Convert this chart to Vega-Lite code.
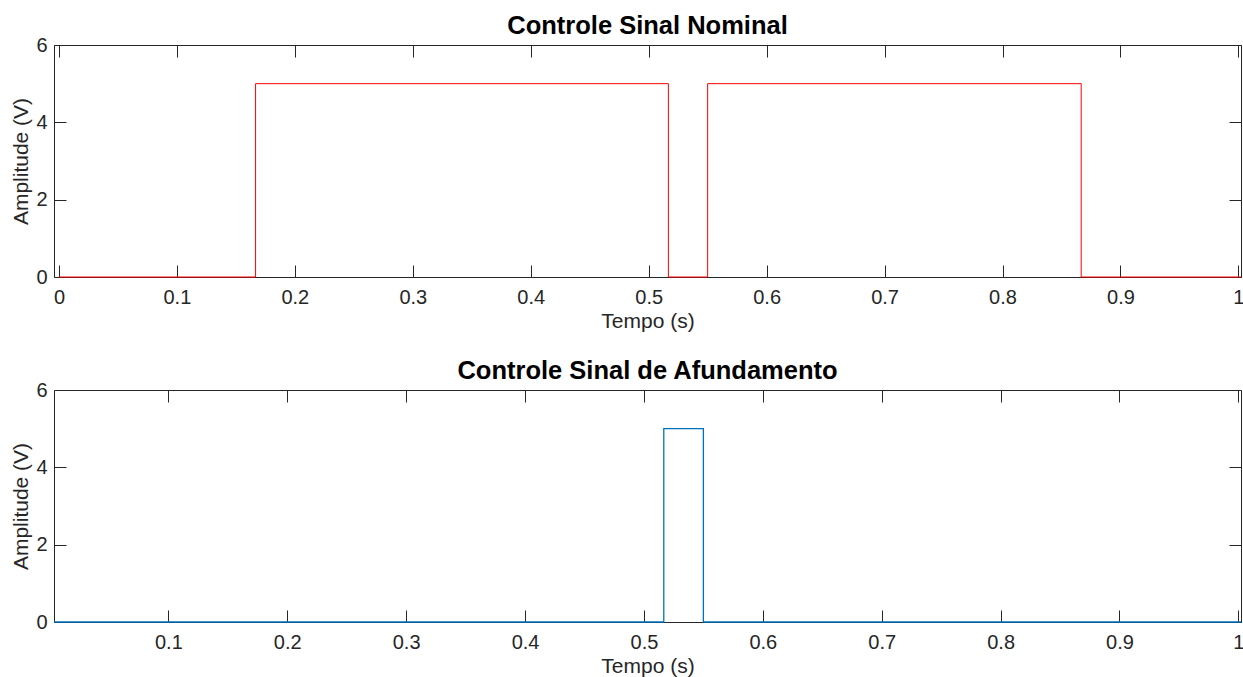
{
  "$schema": "https://vega.github.io/schema/vega-lite/v6.json",
  "padding": {"left": 10, "top": 13, "right": 0, "bottom": 0},
  "background": "white",
  "datasets": {
    "nominal": [
      {"t": 0, "v": 0},
      {"t": 0.1667, "v": 5},
      {"t": 0.5167, "v": 0},
      {"t": 0.55, "v": 5},
      {"t": 0.8667, "v": 0},
      {"t": 1.0022, "v": 0}
    ],
    "afund": [
      {"t": 0.0038, "v": 0},
      {"t": 0.5167, "v": 5},
      {"t": 0.55, "v": 0},
      {"t": 1.0022, "v": 0}
    ]
  },
  "spacing": 113,
  "bounds": "flush",
  "vconcat": [
    {
      "width": 1187,
      "height": 232,
      "title": "Controle Sinal Nominal",
      "data": {"name": "nominal"},
      "resolve": {"axis": {"x": "independent", "y": "independent"}},
      "layer": [
        {
          "mark": {"type": "line", "interpolate": "step-after", "color": "#FF0000", "strokeWidth": 1},
          "encoding": {
            "x": {"field": "t", "type": "quantitative", "scale": {"domain": [-0.0042, 1.0022], "nice": false, "zero": false},
                  "axis": {"orient": "bottom", "title": "Tempo (s)", "values": [0, 0.1, 0.2, 0.3, 0.4, 0.5, 0.6, 0.7, 0.8, 0.9, 1], "format": "~g", "labelPadding": 22, "titlePadding": 3, "labelFlush": true}},
            "y": {"field": "v", "type": "quantitative", "scale": {"domain": [0, 6], "nice": false},
                  "axis": {"orient": "left", "title": "Amplitude (V)", "values": [0, 2, 4, 6], "labelPadding": 19, "titlePadding": 4}}
          }
        },
        {
          "mark": {"type": "line", "strokeOpacity": 0},
          "encoding": {
            "x": {"field": "t", "type": "quantitative", "axis": {"orient": "top", "title": null, "labels": false, "values": [0, 0.1, 0.2, 0.3, 0.4, 0.5, 0.6, 0.7, 0.8, 0.9, 1]}},
            "y": {"field": "v", "type": "quantitative", "axis": {"orient": "right", "title": null, "labels": false, "values": [0, 2, 4, 6]}}
          }
        }
      ]
    },
    {
      "width": 1187,
      "height": 232,
      "title": "Controle Sinal de Afundamento",
      "data": {"name": "afund"},
      "resolve": {"axis": {"x": "independent", "y": "independent"}},
      "layer": [
        {
          "mark": {"type": "line", "interpolate": "step-after", "color": "#0072BD", "strokeWidth": 1.3},
          "encoding": {
            "x": {"field": "t", "type": "quantitative", "scale": {"domain": [0.0038, 1.0022], "nice": false, "zero": false},
                  "axis": {"orient": "bottom", "title": "Tempo (s)", "values": [0.1, 0.2, 0.3, 0.4, 0.5, 0.6, 0.7, 0.8, 0.9, 1], "format": "~g", "labelPadding": 22, "titlePadding": 3, "labelFlush": true}},
            "y": {"field": "v", "type": "quantitative", "scale": {"domain": [0, 6], "nice": false},
                  "axis": {"orient": "left", "title": "Amplitude (V)", "values": [0, 2, 4, 6], "labelPadding": 19, "titlePadding": 4}}
          }
        },
        {
          "mark": {"type": "line", "strokeOpacity": 0},
          "encoding": {
            "x": {"field": "t", "type": "quantitative", "axis": {"orient": "top", "title": null, "labels": false, "values": [0.1, 0.2, 0.3, 0.4, 0.5, 0.6, 0.7, 0.8, 0.9, 1]}},
            "y": {"field": "v", "type": "quantitative", "axis": {"orient": "right", "title": null, "labels": false, "values": [0, 2, 4, 6]}}
          }
        }
      ]
    }
  ],
  "config": {
    "view": {"stroke": "#262626", "strokeWidth": 1},
    "axis": {
      "grid": false,
      "domain": false,
      "ticks": true,
      "tickSize": -12,
      "tickColor": "#262626",
      "tickWidth": 1,
      "labelFont": "Liberation Sans",
      "labelFontSize": 20,
      "labelColor": "#262626",
      "labelFlush": false,
      "labelOverlap": false,
      "titleFont": "Liberation Sans",
      "titleFontSize": 21,
      "titleFontWeight": "normal",
      "titleColor": "#262626"
    },
    "title": {
      "font": "Liberation Sans",
      "fontSize": 25.5,
      "fontWeight": "bold",
      "color": "#000000",
      "baseline": "alphabetic",
      "offset": -4,
      "anchor": "middle"
    }
  }
}
